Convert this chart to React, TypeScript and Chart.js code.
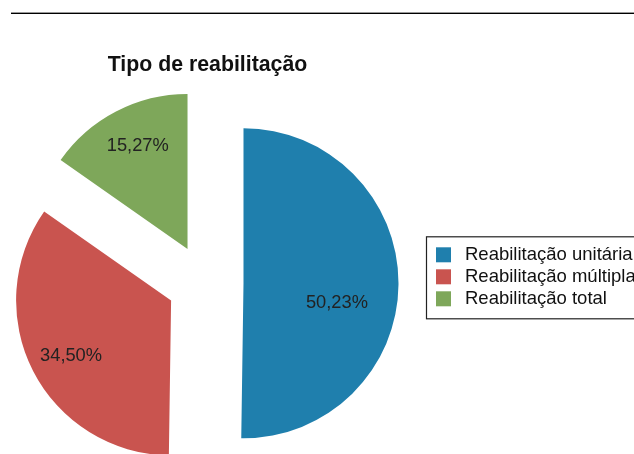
import React, { useEffect, useRef } from "react";
import { Chart, registerables } from "chart.js";

Chart.register(...registerables);

const chartTitle = "Tipo de reabilitação";
const categories = ["Reabilitação unitária", "Reabilitação múltipla", "Reabilitação total"];
const shares = [50.23, 34.5, 15.27];
const sliceColors = ["#1f7fad", "#c9544f", "#7ea75a"];

const FONT = "'Liberation Sans', Arial, Helvetica, sans-serif";
const EXPLODE = 38.3;
// label placement per slice: fraction of radius and angular shift (deg)
const labelPlacement = [
  { f: 0.615, da: 11.0 },
  { f: 0.735, da: -1.5 },
  { f: 0.746, da: 2.0 },
];

const fmt = (v: number) => v.toFixed(2).replace(".", ",") + "%";

const explodePlugin = {
  id: "explodeDraw",
  beforeDatasetsDraw(chart: any) {
    const ctx = chart.ctx;
    const meta = chart.getDatasetMeta(0);
    meta.data.forEach((el: any) => {
      const mid = (el.startAngle + el.endAngle) / 2;
      ctx.save();
      ctx.translate(Math.cos(mid) * EXPLODE, Math.sin(mid) * EXPLODE);
      el.draw(ctx);
      ctx.restore();
    });
    return false;
  },
  afterDraw(chart: any) {
    const ctx = chart.ctx;
    const meta = chart.getDatasetMeta(0);
    const values = chart.data.datasets[0].data as number[];
    ctx.save();
    // top rule
    ctx.fillStyle = "#000";
    ctx.fillRect(11, 12.6, 640, 1.4);
    // title
    ctx.font = `bold 21.3px ${FONT}`;
    ctx.textAlign = "center";
    ctx.textBaseline = "alphabetic";
    ctx.fillStyle = "#111";
    ctx.fillText(chartTitle, 207.5, 71);
    // slice labels
    ctx.font = `18.3px ${FONT}`;
    ctx.fillStyle = "#222";
    meta.data.forEach((el: any, i: number) => {
      const mid = (el.startAngle + el.endAngle) / 2;
      const vx = el.x + Math.cos(mid) * EXPLODE;
      const vy = el.y + Math.sin(mid) * EXPLODE;
      const p = labelPlacement[i];
      const a = mid + (p.da * Math.PI) / 180;
      const r = el.outerRadius * p.f;
      ctx.fillText(fmt(values[i]), vx + Math.cos(a) * r, vy + Math.sin(a) * r + 6.2);
    });
    // legend
    ctx.strokeStyle = "#222";
    ctx.lineWidth = 1.2;
    ctx.strokeRect(426.5, 236.8, 400, 82);
    ctx.textAlign = "left";
    ctx.font = `18.5px ${FONT}`;
    const labels = chart.data.labels as string[];
    labels.forEach((lab: string, i: number) => {
      const y = 247.3 + i * 22;
      ctx.fillStyle = sliceColors[i];
      ctx.fillRect(436, y, 15, 15);
      ctx.fillStyle = "#111";
      ctx.fillText(lab, 465, y + 12.3);
    });
    ctx.restore();
  },
};

export default function App() {
  const ref = useRef<HTMLCanvasElement | null>(null);
  useEffect(() => {
    if (!ref.current) return;
    const chart = new Chart(ref.current, {
      type: "pie",
      data: {
        labels: categories,
        datasets: [
          {
            data: shares,
            backgroundColor: sliceColors,
            borderWidth: 0,
            radius: 155,
            clip: false,
          } as any,
        ],
      },
      options: {
        responsive: false,
        devicePixelRatio: 1,
        animation: false,
        layout: { padding: { left: 0, right: 223.6, top: 112, bottom: 0 } },
        plugins: {
          legend: { display: false },
          title: { display: false },
          tooltip: { enabled: false },
        },
      } as any,
      plugins: [explodePlugin],
    });
    return () => chart.destroy();
  }, []);
  return (
    <div style={{ position: "absolute", left: 0, top: 0, width: 634, height: 454, overflow: "hidden", background: "#fff" }}>
      <canvas ref={ref} width={634} height={454} style={{ display: "block" }} />
    </div>
  );
}
